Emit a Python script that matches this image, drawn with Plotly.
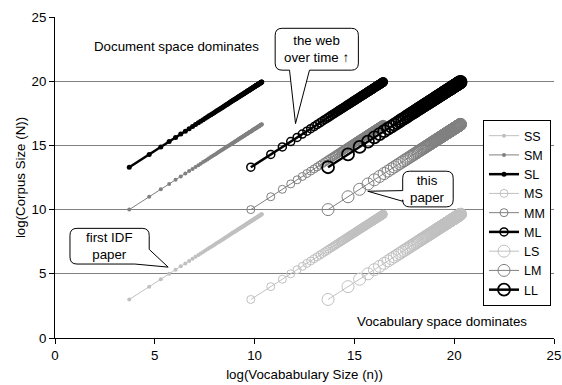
import plotly.graph_objects as go

# ---------------- data ----------------
series_names = ["SS", "SM", "SL", "MS", "MM", "ML", "LS", "LM", "LL"]
vocab_start = [3.72, 3.72, 3.72, 9.81, 9.81, 9.81, 13.68, 13.68, 13.68]
corpus_start = [3.0, 10.0, 13.3, 3.0, 10.0, 13.3, 3.0, 10.0, 13.3]
growth = [0.00, 1.00, 1.58, 2.00, 2.32, 2.58, 2.81, 3.00, 3.17, 3.32,
          3.46, 3.58, 3.70, 3.81, 3.91, 4.00, 4.09, 4.17, 4.25, 4.32,
          4.39, 4.46, 4.52, 4.58, 4.64, 4.70, 4.75, 4.81, 4.86, 4.91,
          4.95, 5.00, 5.04, 5.09, 5.13, 5.17, 5.21, 5.25, 5.29, 5.32,
          5.36, 5.39, 5.43, 5.46, 5.49, 5.52, 5.55, 5.58, 5.61, 5.64,
          5.67, 5.70, 5.73, 5.75, 5.78, 5.81, 5.83, 5.86, 5.88, 5.91,
          5.93, 5.95, 5.98, 6.00, 6.02, 6.04, 6.07, 6.09, 6.11, 6.13,
          6.15, 6.17, 6.19, 6.21, 6.23, 6.25, 6.27, 6.29, 6.30, 6.32,
          6.34, 6.36, 6.38, 6.39, 6.41, 6.43, 6.44, 6.46, 6.48, 6.49,
          6.51, 6.52, 6.54, 6.56, 6.57, 6.58, 6.60, 6.61, 6.63, 6.64]
x_ticks = [0, 5, 10, 15, 20, 25]
y_ticks = [0, 5, 10, 15, 20, 25]

# ---------------- styles ----------------
FONT = "Liberation Sans, Arial, Helvetica, sans-serif"
FS = 13.3
colour_by_corpus = {"S": "#c0c0c0", "M": "#808080", "L": "#000000"}

fig = go.Figure()
for name, x0, y0 in zip(series_names, vocab_start, corpus_start):
    v, c = name[0], name[1]
    col = colour_by_corpus[c]
    xs = [x0 + g for g in growth]
    ys = [y0 + g for g in growth]
    if v == "S":
        marker = dict(symbol="circle", size=5 if c == "L" else 4, color=col,
                      line=dict(width=0))
    elif v == "M":
        marker = dict(symbol="circle-open", size=8, color=col,
                      line=dict(width=1.5 if c == "L" else 1))
    else:
        marker = dict(symbol="circle-open", size=12, color=col,
                      line=dict(width=1.8 if c == "L" else 1))
    fig.add_trace(go.Scatter(
        x=xs, y=ys, name=name, mode="lines+markers",
        line=dict(color=col, width=2.5 if c == "L" else 1),
        marker=marker))

# ---------------- callout bubbles ----------------
rx, ry = 0.35, 0.55

def bubble_path(x0, x1, y0, y1, right_pts=(), bottom_pts=(), left_pts=()):
    p = [f"M {x0+rx},{y1}", f"L {x1-rx},{y1}", f"Q {x1},{y1} {x1},{y1-ry}"]
    if right_pts:
        p += [f"L {px},{py}" for px, py in right_pts]
    else:
        p += [f"L {x1},{y0+ry}", f"Q {x1},{y0} {x1-rx},{y0}"]
    p += [f"L {px},{py}" for px, py in bottom_pts]
    p += [f"L {x0+rx},{y0}", f"Q {x0},{y0} {x0},{y0+ry}"]
    p += [f"L {px},{py}" for px, py in left_pts]
    p += [f"L {x0},{y1-ry}", f"Q {x0},{y1} {x0+rx},{y1} Z"]
    return " ".join(p)

bubbles = [
    dict(box=(11.03, 15.2, 20.86, 24.12),
         bottom_pts=[(12.75, 20.86), (12.05, 16.7), (11.75, 20.86)],
         text="the web<br>over time ↑"),
    dict(box=(17.42, 19.95, 10.21, 12.99),
         left_pts=[(17.42, 10.65), (15.67, 11.43), (17.42, 11.48)],
         text="this<br>paper"),
    dict(box=(0.75, 4.72, 5.76, 8.54),
         right_pts=[(4.72, 6.9), (5.67, 5.52), (4.0, 5.76)],
         text="first IDF<br>paper"),
]
for b in bubbles:
    x0, x1, y0, y1 = b["box"]
    fig.add_shape(type="path", xref="x", yref="y",
                  path=bubble_path(x0, x1, y0, y1,
                                   right_pts=b.get("right_pts", ()),
                                   bottom_pts=b.get("bottom_pts", ()),
                                   left_pts=b.get("left_pts", ())),
                  line=dict(color="black", width=1), fillcolor="white",
                  layer="above")
    fig.add_annotation(x=(x0 + x1) / 2, y=(y0 + y1) / 2, text=b["text"],
                       showarrow=False,
                       font=dict(family=FONT, size=FS, color="black"))

fig.add_annotation(x=6.1, y=22.7, text="Document space dominates", showarrow=False,
                   font=dict(family=FONT, size=FS, color="black"))
fig.add_annotation(x=19.4, y=1.25, text="Vocabulary space dominates", showarrow=False,
                   font=dict(family=FONT, size=FS, color="black"))

fig.update_layout(
    width=562, height=385,
    margin=dict(l=55, r=8, t=17, b=47),
    paper_bgcolor="white", plot_bgcolor="white",
    font=dict(family=FONT, size=FS, color="black"),
    showlegend=True,
    legend=dict(x=0.994, y=0.679, xanchor="right", yanchor="top",
                bgcolor="white", bordercolor="black", borderwidth=1,
                font=dict(family=FONT, size=12.5, color="black"),
                tracegroupgap=0, itemwidth=30),
)
fig.update_xaxes(range=[0, 25], tickvals=x_ticks, showgrid=False, zeroline=False,
                 showline=True, linecolor="black", linewidth=1,
                 ticks="outside", ticklen=5, tickcolor="black", automargin=False,
                 ticklabeloverflow="allow",
                 tickfont=dict(family=FONT, size=FS, color="black"),
                 title=dict(text="log(Vocababulary Size (n))", standoff=7,
                            font=dict(family=FONT, size=FS, color="black")))
fig.update_yaxes(range=[0, 25], tickvals=y_ticks, showgrid=True, gridcolor="#808080",
                 gridwidth=1, zeroline=False,
                 showline=True, linecolor="black", linewidth=1,
                 ticks="outside", ticklen=5, tickcolor="black", automargin=False,
                 ticklabeloverflow="allow",
                 tickfont=dict(family=FONT, size=FS, color="black"),
                 title=dict(text="log(Corpus Size (N))", standoff=2,
                            font=dict(family=FONT, size=FS, color="black")))

fig.write_html("out.html",
               config={"displayModeBar": False},
               post_script="document.body.style.margin='0';"
                           "document.body.style.overflow='hidden';")
